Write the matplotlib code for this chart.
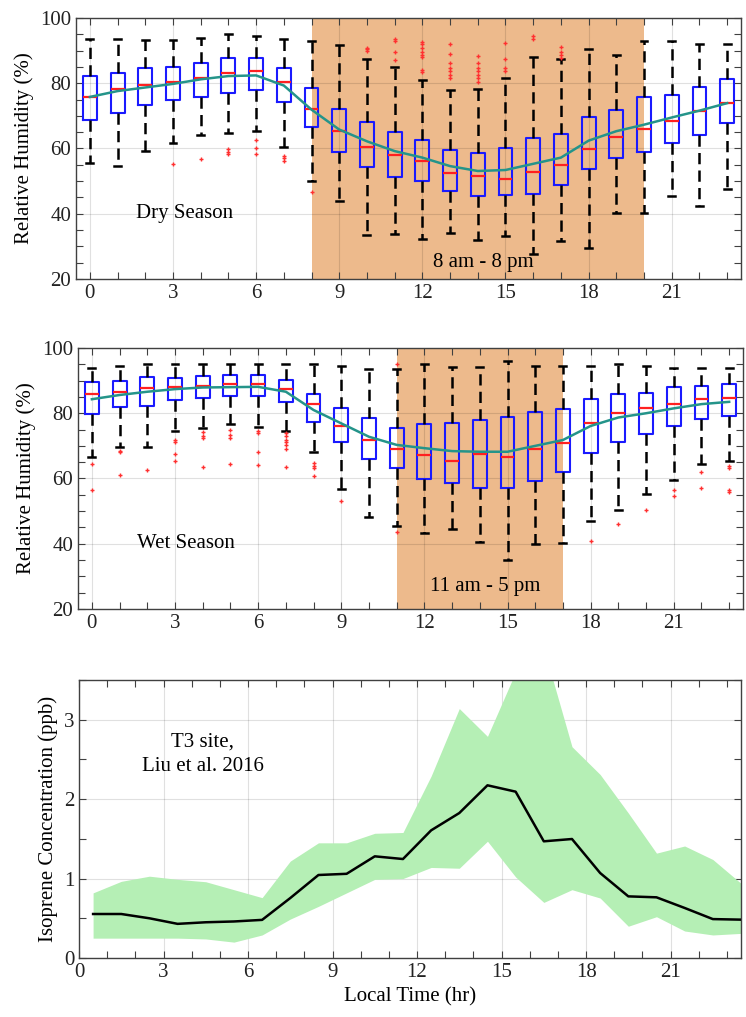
import numpy as np
import matplotlib
matplotlib.use("Agg")
import matplotlib.pyplot as plt
from matplotlib.ticker import MultipleLocator

plt.rcParams['font.family'] = ['Liberation Serif', 'DejaVu Serif']
plt.rcParams['font.size'] = 15

hours = list(range(24))

# dry season relative humidity (%)
dry_whishi = [93.7, 93.7, 93.4, 93.4, 93.9, 95.0, 94.6, 93.7, 92.9, 91.7, 87.4, 85.1,
              81.0, 78.0, 78.1, 81.5, 87.9, 87.5, 90.6, 88.8, 92.9, 92.9, 92.1, 92.1]
dry_q3 = [82.2, 83.0, 84.8, 85.1, 86.3, 87.8, 87.8, 84.8, 78.4, 72.1, 68.2, 65.2,
          62.5, 59.5, 58.7, 60.1, 63.2, 64.5, 69.7, 71.8, 75.9, 76.4, 78.8, 81.4]
dry_med = [75.9, 78.2, 79.4, 80.3, 81.6, 83.0, 83.6, 80.3, 72.0, 65.5, 60.5, 58.0,
           56.1, 52.4, 51.6, 50.7, 52.9, 54.9, 59.8, 63.4, 66.1, 68.3, 71.5, 73.8]
dry_q1 = [68.7, 70.8, 73.2, 74.8, 75.9, 77.1, 78.0, 74.1, 66.6, 58.8, 54.3, 51.4,
          50.0, 46.9, 45.3, 45.7, 45.9, 48.9, 53.6, 57.0, 58.9, 61.7, 64.1, 67.8]
dry_whislo = [55.7, 54.5, 59.1, 61.6, 64.1, 64.8, 65.4, 60.5, 49.9, 43.9, 33.6, 33.8,
              32.3, 34.0, 31.8, 33.2, 27.5, 31.5, 29.6, 40.2, 40.2, 45.3, 42.5, 47.7]
dry_mean = [75.8, 77.6, 78.7, 79.8, 81.2, 82.2, 82.4, 79.3, 71.9, 65.8, 62.2, 59.2,
            57.2, 54.6, 53.1, 53.4, 55.3, 57.2, 62.4, 65.3, 67.3, 69.5, 71.6, 73.9]
dry_fliers = [[], [], [], [55.3], [56.8], [59.7, 58.9, 58.2], [62.7, 60.0, 58.2],
              [57.7, 57.0, 56.3], [46.7], [], [90.9, 90.4, 89.8],
              [93.7, 92.9, 89.6, 87.1],
              [92.7, 91.9, 90.7, 89.6, 88.8, 88.1, 84.1, 83.3],
              [92.0, 89.1, 86.1, 84.6, 83.6, 82.5, 81.5],
              [88.4, 86.1, 84.6, 83.6, 82.5, 81.5, 80.5],
              [92.2, 87.4, 84.6, 83.8], [94.5, 93.7], [91.2, 89.6, 88.6, 87.8],
              [], [], [], [], [], []]

# wet season relative humidity (%)
wet_whishi = [94.0, 94.6, 95.1, 95.1, 95.1, 95.1, 95.1, 95.1, 95.0, 94.6, 93.5, 93.5,
              95.0, 94.1, 94.1, 96.1, 94.6, 94.6, 94.6, 95.1, 94.5, 94.0, 93.8, 93.8]
wet_q3 = [89.5, 90.0, 91.0, 90.9, 91.3, 91.7, 91.8, 90.1, 85.8, 81.6, 78.4, 75.6,
          76.8, 76.9, 78.0, 78.8, 80.3, 81.2, 84.3, 86.0, 86.3, 87.9, 88.4, 88.9]
wet_med = [85.8, 86.5, 87.6, 87.9, 88.4, 89.0, 89.0, 87.5, 82.7, 76.2, 71.7, 69.0,
           67.1, 65.5, 67.4, 66.7, 69.1, 70.9, 77.1, 80.2, 81.5, 82.7, 84.3, 84.8]
wet_q1 = [79.8, 81.8, 82.1, 84.1, 84.6, 85.2, 85.2, 83.5, 77.3, 71.1, 65.9, 63.1,
          59.8, 58.5, 57.2, 57.2, 59.2, 61.9, 67.7, 71.3, 73.6, 76.1, 78.3, 79.3]
wet_whislo = [66.6, 69.7, 69.7, 74.5, 75.4, 76.6, 75.8, 74.6, 68.2, 56.8, 48.2, 45.3,
              43.2, 44.4, 40.6, 35.0, 39.9, 40.2, 47.0, 50.2, 55.3, 59.6, 64.4, 65.5]
wet_mean = [84.3, 85.6, 86.6, 87.4, 87.9, 88.0, 88.1, 86.6, 81.0, 76.9, 72.8, 70.3,
            69.3, 68.4, 68.2, 68.2, 70.0, 71.8, 76.1, 78.7, 80.0, 81.5, 82.8, 83.5]
wet_fliers = [[64.3, 56.6], [68.4, 68.0, 61.2], [62.7], [71.8, 71.3, 67.6, 65.4],
              [74.2, 73.1, 72.3, 63.4], [74.9, 73.4, 72.5, 64.3], [74.6, 73.9, 68.2, 64.1],
              [73.9, 73.1, 71.8, 71.1, 70.3, 69.1, 63.4], [64.7, 63.9, 63.1, 60.9],
              [53.2], [], [95.1, 43.5], [], [], [], [], [], [],
              [40.8], [46.0], [50.2], [56.4, 54.7], [61.9, 57.0], [63.7, 63.2, 56.5, 55.8]]

# isoprene (ppb), T3 site
iso_time = [0.5, 1.5, 2.5, 3.5, 4.5, 5.5, 6.5, 7.5, 8.5, 9.5, 10.5, 11.5,
            12.5, 13.5, 14.5, 15.5, 16.5, 17.5, 18.5, 19.5, 20.5, 21.5, 22.5, 23.5]
iso_mean = [0.554, 0.554, 0.50, 0.43, 0.45, 0.46, 0.48, 0.755, 1.045, 1.06, 1.28, 1.246,
            1.607, 1.825, 2.174, 2.094, 1.469, 1.498, 1.07, 0.776, 0.764, 0.63, 0.49, 0.483]
iso_upper = [0.82, 0.965, 1.03, 0.99, 0.96, 0.86, 0.76, 1.22, 1.45, 1.45, 1.57, 1.58,
             2.29, 3.14, 2.79, 3.6, 3.9, 2.66, 2.31, 1.825, 1.32, 1.41, 1.24, 0.94]
iso_lower = [0.25, 0.25, 0.25, 0.25, 0.24, 0.20, 0.29, 0.49, 0.65, 0.82, 0.99, 1.00,
             1.14, 1.13, 1.47, 1.02, 0.70, 0.86, 0.755, 0.40, 0.52, 0.34, 0.29, 0.31]

span_color = '#EDBA8C'
axis_color = '#404040'


def style_axes(ax):
    for s in ax.spines.values():
        s.set_color(axis_color)
        s.set_linewidth(1.0)
    ax.tick_params(which='both', direction='in', top=True, right=True,
                   length=5, width=0.8, color=axis_color, labelcolor='#222222',
                   labelsize=15)
    ax.xaxis.set_major_locator(MultipleLocator(3))
    ax.xaxis.set_minor_locator(MultipleLocator(1))
    ax.set_axisbelow(True)
    ax.grid(True, which='major', color='k', alpha=0.12, linewidth=0.8)


def rh_panel(ax, whislo, q1, med, q3, whishi, mean, fliers, span, label, span_label, span_label_y):
    stats = []
    for i in range(len(hours)):
        stats.append(dict(whislo=whislo[i], q1=q1[i], med=med[i], q3=q3[i],
                          whishi=whishi[i], fliers=fliers[i]))
    ax.axvspan(span[0], span[1], color=span_color, zorder=0.2, lw=0)
    ax.bxp(stats, positions=hours, widths=0.5, capwidths=0.25, showfliers=True,
           manage_ticks=False,
           boxprops=dict(color='#1a1aff', linewidth=1.5),
           medianprops=dict(color='#ff2020', linewidth=1.6),
           whiskerprops=dict(color='k', linewidth=1.8, linestyle=(0, (4.5, 2.5))),
           capprops=dict(color='k', linewidth=1.8),
           flierprops=dict(marker='+', markeredgecolor='#ff3030', markersize=3.5,
                           markeredgewidth=1.0, linestyle='none'))
    ax.plot(hours, mean, color='#24948a', linewidth=1.8, zorder=5)
    ax.set_xlim(-0.5, 23.5)
    ax.set_ylim(20, 100)
    ax.yaxis.set_major_locator(MultipleLocator(20))
    ax.yaxis.set_minor_locator(MultipleLocator(5))
    ax.set_ylabel('Relative Humidity (%)', fontsize=15)
    ax.text(3.4, 40, label, fontsize=15, ha='center', va='center')
    ax.text(14.2, span_label_y, span_label, fontsize=15, ha='center', va='center')
    style_axes(ax)


fig = plt.figure(figsize=(7.46, 10.17), dpi=100)

ax1 = fig.add_axes([0.1019, 0.7257, 0.8914, 0.2566])
rh_panel(ax1, dry_whislo, dry_q1, dry_med, dry_q3, dry_whishi, dry_mean, dry_fliers,
         (8, 20), 'Dry Season', '8 am - 8 pm', 25.2)

ax2 = fig.add_axes([0.1046, 0.4012, 0.8914, 0.2566])
rh_panel(ax2, wet_whislo, wet_q1, wet_med, wet_q3, wet_whishi, wet_mean, wet_fliers,
         (11, 17), 'Wet Season', '11 am - 5 pm', 27.0)

ax3 = fig.add_axes([0.1059, 0.058, 0.8874, 0.2734])
ax3.fill_between(iso_time, iso_lower, iso_upper, color='#b5efb5', linewidth=0, zorder=1)
ax3.plot(iso_time, iso_mean, color='k', linewidth=1.8, zorder=3)
ax3.set_xlim(0, 23.5)
ax3.set_ylim(0, 3.5)
ax3.yaxis.set_major_locator(MultipleLocator(1))
ax3.yaxis.set_minor_locator(MultipleLocator(0.5))
ax3.set_ylabel('Isoprene Concentration (ppb)', fontsize=15)
ax3.set_xlabel('Local Time (hr)', fontsize=15)
ax3.text(4.4, 2.57, 'T3 site,\nLiu et al. 2016', fontsize=15, ha='center', va='center',
         linespacing=1.4)
style_axes(ax3)

fig.savefig('out.png', dpi=100)
